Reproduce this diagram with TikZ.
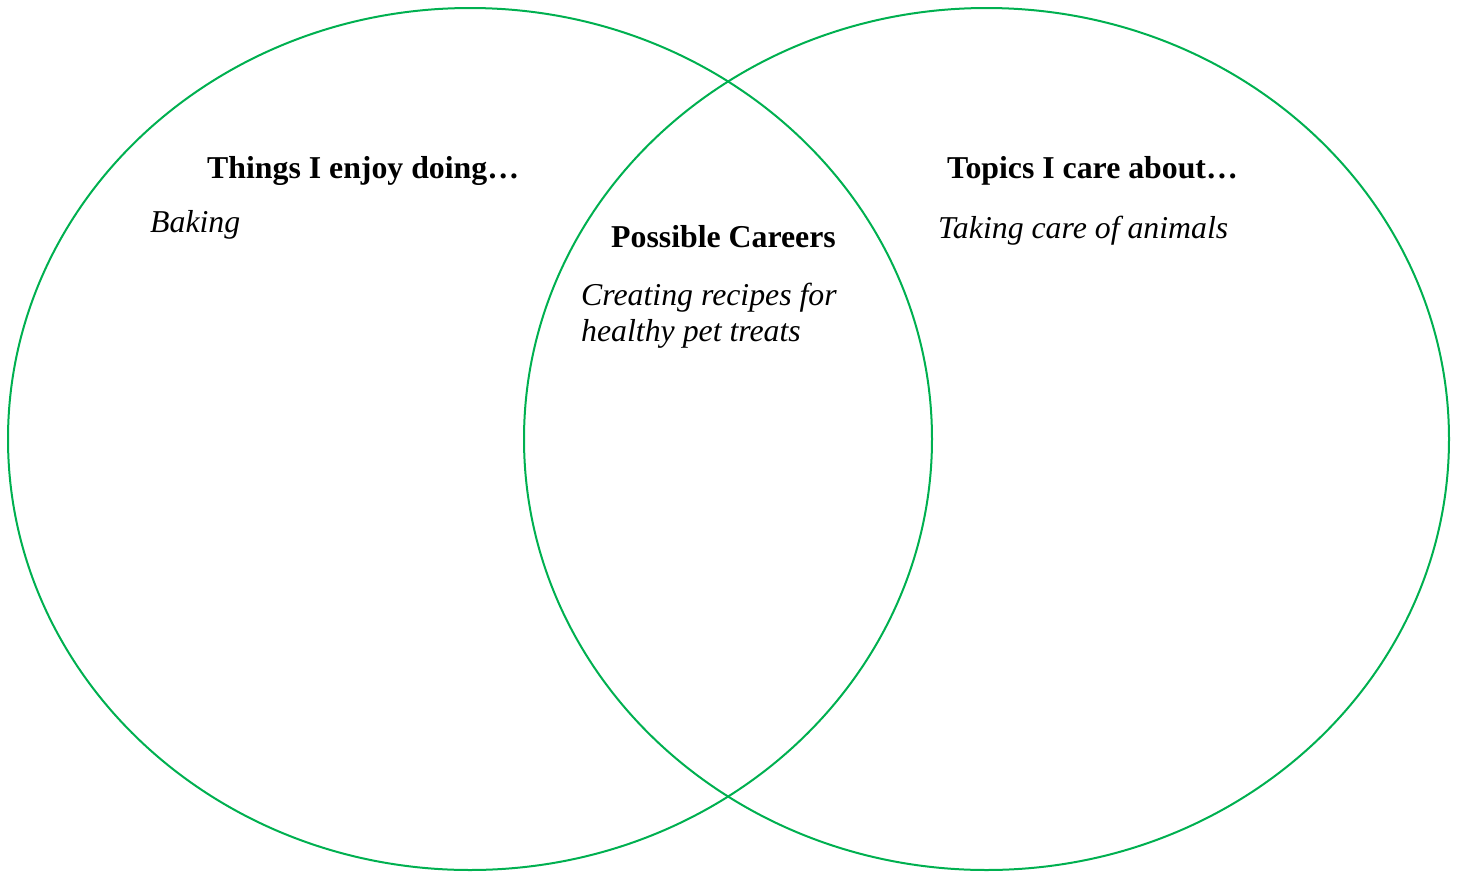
\documentclass[tikz,border=0pt]{standalone}
\usepackage{fontspec}
\setmainfont{Liberation Serif}
\definecolor{venngreen}{HTML}{00B050}
\begin{document}
\begin{tikzpicture}[x=1pt,y=-1pt,
  ring/.style={draw=venngreen,line width=2pt},
  head/.style={anchor=base west,inner sep=0pt,font=\fontsize{31.8}{36}\selectfont\bfseries},
  entry/.style={anchor=base west,inner sep=0pt,font=\fontsize{31.8}{36}\selectfont\itshape}]
\useasboundingbox (0,0) rectangle (1460,871);
\draw[ring] (470,439) ellipse [x radius=462, y radius=431];
\draw[ring] (986.5,439) ellipse [x radius=462.5, y radius=431];
\node[head] (h1) at (207,178) {Things I enjoy doing…};
\node[entry] (e1) at (150,232) {Baking};
\node[head] (h2) at (611,247) {Possible Careers};
\node[entry] (e2a) at (581,305) {Creating recipes for};
\node[entry] (e2b) at (581,341) {healthy pet treats};
\node[head] (h3) at (947,178) {Topics I care about…};
\node[entry] (e3) at (938,238) {Taking care of animals};
\end{tikzpicture}
\end{document}
